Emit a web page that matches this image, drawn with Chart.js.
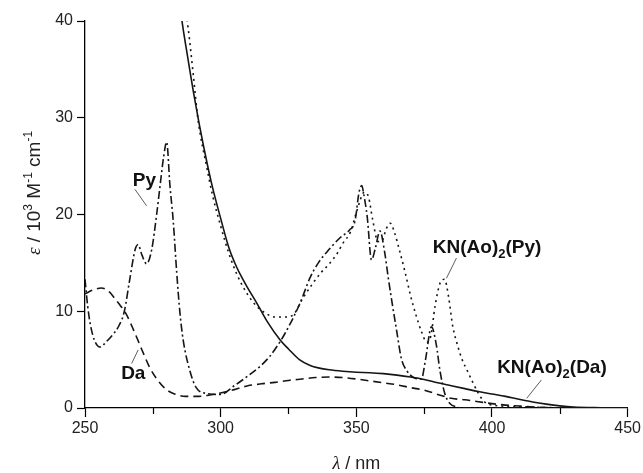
<!DOCTYPE html>
<html>
<head>
<meta charset="utf-8">
<script src="https://cdn.jsdelivr.net/npm/chart.js@4.4.0/dist/chart.umd.min.js"></script>
<style>
  html, body { margin: 0; padding: 0; background: #fff; }
  #c { display: block; }
</style>
</head>
<body>
<canvas id="c" width="643" height="473"></canvas>
<script>
// wavelength (nm) / epsilon (10^3 M^-1 cm^-1)
const daX = [250, 253, 256, 259, 261, 263, 265, 268, 271, 274, 277, 280, 283, 287, 292, 296, 300, 305, 310, 315, 320, 325, 330, 335, 340, 345, 350, 355, 360, 365, 370, 375, 380, 385, 390, 395, 400, 405, 410, 415, 420, 425, 450];
const daY = [11.8, 12.2, 12.4, 12.0, 11.3, 10.6, 9.8, 8.0, 6.0, 4.1, 2.8, 1.9, 1.45, 1.2, 1.2, 1.35, 1.55, 1.9, 2.3, 2.5, 2.65, 2.85, 3.0, 3.15, 3.2, 3.15, 3.0, 2.8, 2.6, 2.4, 2.1, 1.85, 1.4, 1.0, 0.85, 0.65, 0.45, 0.3, 0.2, 0.1, 0.05, 0, 0];

const pyX = [250, 251, 252, 253.5, 255.5, 258, 260, 262.5, 264.5, 266.5, 268.5, 269.6, 271, 272.7, 274.6, 276.4, 277.6, 279, 280.1, 281.3, 282.5, 283.8, 285, 286.2, 288.7, 291, 295, 300, 305, 310, 314.5, 318, 320.6, 323.7, 329.2, 333, 336, 340, 344, 347.5, 349.5, 351, 352, 352.8, 354, 355.6, 357, 358.7, 360.5, 361.7, 363, 364.8, 366.6, 368.5, 371.5, 374, 375.5, 377.7, 379.5, 380.8, 382.6, 384.4, 387, 390, 450];
const pyY = [13.3, 10.5, 8.6, 7.0, 6.3, 6.9, 7.5, 8.5, 10.0, 13.3, 16.4, 16.9, 15.8, 14.9, 16.4, 20.0, 22.8, 26.0, 27.5, 23.0, 19.4, 14.0, 9.8, 7.0, 3.8, 2.1, 1.5, 1.4, 2.3, 3.3, 4.3, 5.3, 6.3, 7.7, 10.8, 13.5, 15.0, 16.4, 17.6, 18.4, 19.3, 22.3, 23.0, 22.0, 19.8, 15.3, 16.5, 18.3, 16.0, 13.6, 11.2, 8.1, 5.1, 3.9, 3.1, 3.0, 5.0, 8.4, 6.5, 3.9, 1.5, 0.5, 0.1, 0, 0];

const knPyX = [286.5, 288, 290, 291.6, 294.8, 297, 300, 303, 306, 310, 313, 316, 320, 324, 327, 330, 334, 337, 340, 343, 345, 348, 350, 353, 354.5, 356, 358, 359.5, 361, 362.5, 364, 366, 368, 370, 372, 374, 376, 377.5, 379, 381, 382.5, 384, 385.5, 387.5, 389, 391, 393, 395, 397, 400, 410, 420, 430, 450];
const knPyY = [42, 39.3, 34.2, 29.9, 25.0, 22.0, 18.8, 16.0, 13.8, 11.7, 10.6, 9.9, 9.4, 9.4, 9.7, 11.2, 12.9, 14.0, 14.9, 16.0, 17.0, 18.3, 20.2, 22.3, 21.8, 19.5, 17.2, 17.3, 18.5, 19.1, 18.2, 16.2, 14.0, 11.6, 9.6, 7.9, 6.8, 7.5, 10.5, 13.0, 13.3, 11.5, 8.5, 6.3, 5.0, 3.8, 2.6, 1.5, 0.7, 0.3, 0.15, 0.05, 0, 0];

const knDaX = [284, 286, 288, 290, 292, 295, 297, 300, 303, 306, 308, 310, 313, 317, 322, 325, 329, 333, 336, 340, 345, 350, 355, 360, 365, 370, 375, 380, 385, 390, 395, 400, 405, 410, 415, 420, 425, 430, 440, 450];
const knDaY = [43.5, 39.5, 36.0, 32.6, 29.5, 25.3, 22.8, 19.6, 16.6, 14.5, 13.4, 12.4, 11.0, 9.0, 7.0, 6.1, 5.0, 4.4, 4.15, 3.95, 3.8, 3.7, 3.65, 3.55, 3.4, 3.2, 2.95, 2.6, 2.3, 2.0, 1.7, 1.45, 1.2, 0.9, 0.62, 0.4, 0.22, 0.1, 0.03, 0];

const xTicks = [250, 300, 350, 400, 450];
const xMinorTicks = [275, 325, 375, 425];
const yTicks = [0, 10, 20, 30, 40];

const pts = (xs, ys) => xs.map((x, i) => ({ x: x, y: ys[i] }));

const ink = '#151515';
const sans = '"Liberation Sans", Arial, sans-serif';

// curve labels, placed in data units
const labels = [
  { parts: [['Py', 0]], x: 271.9, y: 22.9, align: 'center', lead: [268.4, 22.6, 272.7, 20.9] },
  { parts: [['Da', 0]], x: 267.8, y: 3.0, align: 'center', lead: [267.2, 4.6, 269.6, 6.0] },
  { parts: [['KN(Ao)', 0], ['2', 1], ['(Py)', 0]], x: 378.2, y: 16.0, align: 'left', lead: [386.9, 15.5, 383.2, 13.4] },
  { parts: [['KN(Ao)', 0], ['2', 1], ['(Da)', 0]], x: 401.9, y: 3.57, align: 'left', lead: [418.2, 2.9, 412.8, 1.0] }
];

function drawRich(ctx, segs, x, y, align) {
  let w = 0;
  segs.forEach(s => { ctx.font = s.font; w += ctx.measureText(s.t).width; });
  let cx = align === 'center' ? x - w / 2 : x;
  segs.forEach(s => {
    ctx.font = s.font;
    ctx.fillText(s.t, cx, y + (s.dy || 0));
    cx += ctx.measureText(s.t).width;
  });
}

const extras = {
  id: 'extras',
  afterDraw(chart) {
    const ctx = chart.ctx;
    const xs = chart.scales.x, ys = chart.scales.y;
    const base = ys.getPixelForValue(0);
    ctx.save();
    ctx.strokeStyle = '#000';
    ctx.lineWidth = 1.2;
    xMinorTicks.forEach(v => {
      const px = Math.round(xs.getPixelForValue(v)) + 0.5;
      ctx.beginPath();
      ctx.moveTo(px, base);
      ctx.lineTo(px, base + 6);
      ctx.stroke();
    });

    ctx.fillStyle = '#111';
    ctx.textBaseline = 'alphabetic';
    labels.forEach(l => {
      const segs = l.parts.map(p => p[1]
        ? { t: p[0], font: 'bold 13px ' + sans, dy: 5 }
        : { t: p[0], font: 'bold 19px ' + sans });
      drawRich(ctx, segs, xs.getPixelForValue(l.x), ys.getPixelForValue(l.y), l.align);
      ctx.strokeStyle = '#333';
      ctx.lineWidth = 0.8;
      ctx.beginPath();
      ctx.moveTo(xs.getPixelForValue(l.lead[0]), ys.getPixelForValue(l.lead[1]));
      ctx.lineTo(xs.getPixelForValue(l.lead[2]), ys.getPixelForValue(l.lead[3]));
      ctx.stroke();
    });

    // axis titles
    ctx.fillStyle = '#222';
    drawRich(ctx, [
      { t: 'λ', font: 'italic 18px "Liberation Serif", serif' },
      { t: ' / nm', font: '18px ' + sans }
    ], (chart.chartArea.left + chart.chartArea.right) / 2, 469, 'center');

    ctx.translate(40, 193);
    ctx.rotate(-Math.PI / 2);
    drawRich(ctx, [
      { t: 'ε', font: 'italic 19px "Liberation Serif", serif' },
      { t: ' / 10', font: '19px ' + sans },
      { t: '3', font: '12px ' + sans, dy: -8 },
      { t: ' M', font: '19px ' + sans },
      { t: '-1', font: '12px ' + sans, dy: -8 },
      { t: ' cm', font: '19px ' + sans },
      { t: '-1', font: '12px ' + sans, dy: -8 }
    ], 0, 0, 'center');
    ctx.restore();
  }
};

const lineSet = (data, dash) => ({
  data: data,
  borderColor: ink,
  borderWidth: 1.6,
  borderDash: dash,
  pointRadius: 0,
  fill: false,
  cubicInterpolationMode: 'monotone'
});

new Chart(document.getElementById('c'), {
  type: 'line',
  data: {
    datasets: [
      lineSet(pts(daX, daY), [8, 5]),
      lineSet(pts(pyX, pyY), [8, 3, 2, 3]),
      lineSet(pts(knPyX, knPyY), [2, 4]),
      lineSet(pts(knDaX, knDaY), [])
    ]
  },
  options: {
    responsive: false,
    devicePixelRatio: 1,
    animation: false,
    layout: { padding: { left: 0, right: 15, top: 21, bottom: 0 } },
    plugins: { legend: { display: false }, tooltip: { enabled: false } },
    scales: {
      x: {
        type: 'linear',
        min: 250,
        max: 450,
        afterBuildTicks(s) { s.ticks = xTicks.map(v => ({ value: v })); },
        afterFit(s) { s.height = 65; },
        grid: { drawOnChartArea: false, tickLength: 9, color: '#000', tickWidth: 1.2 },
        border: { color: '#000', width: 1.3 },
        ticks: { color: '#222', font: { size: 16, family: sans }, padding: 2, maxRotation: 0 }
      },
      y: {
        min: 0,
        max: 40,
        afterBuildTicks(s) { s.ticks = yTicks.map(v => ({ value: v })); },
        afterFit(s) { s.width = 85; },
        grid: { drawOnChartArea: false, tickLength: 8, color: '#000', tickWidth: 1.2 },
        border: { color: '#000', width: 1.3 },
        ticks: { color: '#222', font: { size: 16, family: sans }, padding: 4 }
      }
    }
  },
  plugins: [extras]
});
</script>
</body>
</html>
